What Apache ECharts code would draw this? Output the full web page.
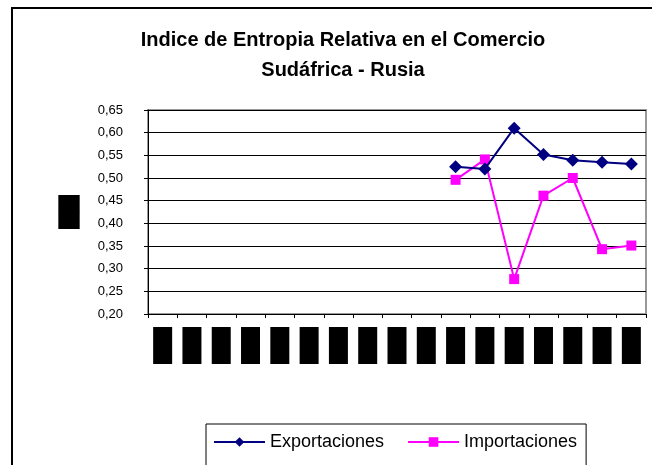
<!DOCTYPE html>
<html>
<head>
<meta charset="utf-8">
<script src="https://cdn.jsdelivr.net/npm/echarts@6/dist/echarts.min.js"></script>
<style>
  html, body { margin: 0; padding: 0; background: #fff; }
  #chart { width: 652px; height: 465px; }
</style>
</head>
<body>
<div id="chart"></div>
<script>
// categories (labels in the picture are blacked out; years assumed)
var years = ['1990', '1991', '1992', '1993', '1994', '1995', '1996', '1997', '1998',
  '1999', '2000', '2001', '2002', '2003', '2004', '2005', '2006'];

// series values
var exportaciones = [null, null, null, null, null, null, null, null, null, null,
  0.525, 0.520, 0.610, 0.552, 0.539, 0.535, 0.531];
var importaciones = [null, null, null, null, null, null, null, null, null, null,
  0.496, 0.541, 0.277, 0.461, 0.500, 0.343, 0.351];

var yMin = 0.20, yMax = 0.65, yStep = 0.05;

var chart = echarts.init(document.getElementById('chart'));

var font = 'Liberation Sans, Arial, sans-serif';

chart.setOption({
  backgroundColor: '#fff',
  animation: false,
  graphic: [{
    type: 'rect',
    shape: { x: 12, y: 8, width: 700, height: 500 },
    style: { fill: 'none', stroke: '#000', lineWidth: 2 },
    z: 0
  }],
  title: {
    text: 'Indice de Entropia Relativa en el Comercio\nSudáfrica - Rusia',
    left: 338,
    textAlign: 'center',
    top: 20,
    textStyle: {
      fontFamily: font, fontWeight: 'bold', fontSize: 20,
      lineHeight: 30, color: '#000'
    }
  },
  legend: {
    left: 206,
    top: 424,
    padding: [9, 9, 30, 7],
    borderColor: '#000',
    borderWidth: 1,
    itemWidth: 51,
    itemHeight: 12,
    itemGap: 23,
    textStyle: { fontFamily: font, fontSize: 18, color: '#000' },
    data: ['Exportaciones', 'Importaciones']
  },
  grid: {
    left: 148, right: 6, top: 110, bottom: 151,
    show: true, borderColor: '#999', borderWidth: 2
  },
  xAxis: {
    type: 'category',
    data: years,
    boundaryGap: true,
    axisLine: { lineStyle: { color: '#000', width: 1 } },
    axisTick: { show: true, length: 4, lineStyle: { color: '#000' } },
    axisLabel: {
      margin: 13,
      interval: 0,
      formatter: function (v) { return '{b|' + v + '}'; },
      rich: {
        b: {
          width: 19, height: 37, backgroundColor: '#000', color: '#000',
          fontSize: 8, align: 'center'
        }
      }
    }
  },
  yAxis: {
    type: 'value',
    min: yMin,
    max: yMax,
    interval: yStep,
    name: 'Índice',
    nameLocation: 'middle',
    nameRotate: 0,
    nameGap: 79,
    nameTextStyle: {
      backgroundColor: '#000', color: '#000', width: 19, height: 34,
      fontSize: 8, align: 'center'
    },
    axisLine: { show: true, lineStyle: { color: '#000', width: 1 } },
    axisTick: { show: true, length: 4, inside: false, lineStyle: { color: '#000' } },
    splitLine: { lineStyle: { color: '#000', width: 1 } },
    axisLabel: {
      margin: 25,
      fontFamily: font, fontSize: 13, color: '#000',
      formatter: function (v) { return v.toFixed(2).replace('.', ','); }
    }
  },
  series: [{
    name: 'Exportaciones',
    type: 'line',
    data: exportaciones,
    symbol: 'diamond',
    symbolSize: 13,
    lineStyle: { color: '#000080', width: 2 },
    itemStyle: { color: '#000080' },
    z: 3
  }, {
    name: 'Importaciones',
    type: 'line',
    data: importaciones,
    symbol: 'rect',
    symbolSize: 10,
    lineStyle: { color: '#ff00ff', width: 2 },
    itemStyle: { color: '#ff00ff' },
    z: 2
  }]
});
</script>
</body>
</html>
